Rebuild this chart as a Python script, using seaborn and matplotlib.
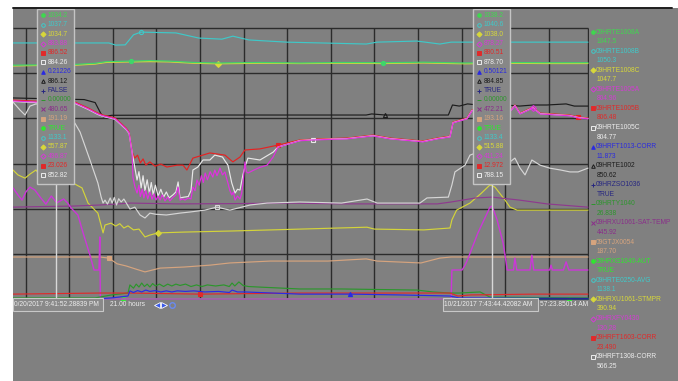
import numpy as np
import pandas as pd
import matplotlib
matplotlib.use('Agg')
import matplotlib.pyplot as plt
import seaborn as sns
from matplotlib.patches import Rectangle

## Trend window: 21.00 hours, time = hours from left edge, value = % of trend span
WIN_H = 21.0

te1008b = [(0, 94.5), (3.5, 94.5), (3.75, 93.7), (4.1, 93.8), (4.4, 97.5), (4.67, 98.5), (5.95, 98.2),
           (6.79, 96.3), (7.63, 95.9), (8.03, 97.0), (8.62, 95.6), (10.0, 94.8), (12.9, 94.1), (13.3, 94.8),
           (14.75, 95.2), (15.59, 94.1), (16.0, 94.8), (21, 94.8)]
te1008a = [(0, 86.3), (1.0, 86.4), (2.3, 86.6), (3.0, 87.0), (3.4, 87.6), (4.3, 87.8), (5.0, 88.0), (5.7, 87.8),
           (6.6, 87.3), (7.5, 87.1), (9.0, 87.3), (10.5, 87.1), (12.0, 87.3), (13.5, 87.2), (15.0, 87.4),
           (16.5, 87.1), (18.0, 87.3), (19.5, 87.2), (21, 87.2)]
te1008c = [(0, 86.0), (1.0, 86.2), (2.3, 86.3), (3.0, 86.7), (3.4, 87.3), (4.3, 87.5), (5.0, 87.6), (5.7, 87.5),
           (6.6, 87.0), (7.5, 86.8), (9.0, 87.0), (10.5, 86.9), (12.0, 87.0), (13.5, 86.9), (15.0, 87.1),
           (16.5, 86.8), (18.0, 87.0), (19.5, 86.9), (21, 86.9)]
te1002 = [(0, 74.2), (2.6, 73.6), (3.0, 72.5), (3.2, 68.6), (3.3, 67.2), (3.6, 67.8), (6.0, 67.9), (10.0, 67.9),
          (12.9, 67.9), (13.1, 68.3), (13.6, 67.9), (15.9, 67.9), (16.05, 71.6), (16.3, 71.2), (16.6, 72.0),
          (17.0, 71.6), (17.5, 72.0), (18.0, 71.6), (18.5, 71.2), (19.0, 71.6), (19.5, 71.6), (20.2, 72.0),
          (20.5, 71.2), (21, 71.2)]
te1005b = [(0, 73.4), (0.84, 73.0), (1.72, 72.7), (2.26, 72.7), (2.74, 70.5), (3.10, 68.6), (3.29, 67.9),
           (3.73, 66.8), (4.13, 63.1), (4.24, 61.6), (4.35, 54.2), (4.45, 52.0), (4.55, 53.1), (4.65, 50.2),
           (4.75, 51.7), (4.85, 49.4), (5.0, 50.6), (5.19, 49.0), (5.4, 49.8), (5.62, 48.7), (6.0, 49.4),
           (6.21, 49.4), (6.35, 47.6), (6.57, 52.0), (7.19, 53.9), (7.74, 53.1), (8.03, 50.6), (8.29, 52.4),
           (8.47, 55.0), (9.02, 55.4), (9.68, 56.8), (10.48, 58.7), (10.96, 59.0), (12.2, 59.4), (13.15, 60.5),
           (13.77, 59.4), (14.97, 58.3), (15.49, 59.4), (15.96, 60.1), (16.07, 65.3), (16.58, 66.8),
           (16.76, 69.7), (17.42, 71.6), (17.97, 67.2), (18.33, 71.6), (18.52, 68.6), (18.99, 70.8),
           (19.25, 68.6), (20.34, 67.9), (20.64, 67.2), (21, 66.8)]
te1005c = [(0, 72.9), (0.84, 72.5), (1.72, 72.2), (2.26, 72.2), (2.74, 70.0), (3.10, 68.1), (3.29, 67.4),
           (3.73, 66.3), (4.13, 62.6), (4.24, 61.1), (4.35, 54.2), (4.53, 43.9), (4.6, 47.0), (4.68, 41.0),
           (4.75, 45.5), (4.82, 40.0), (4.9, 44.0), (4.98, 39.0), (5.05, 43.0), (5.12, 38.5), (5.2, 42.0),
           (5.3, 38.0), (5.4, 40.5), (5.5, 37.6), (5.6, 39.5), (5.7, 37.3), (5.85, 38.5), (5.95, 39.5),
           (6.03, 43.2), (6.1, 37.3), (6.25, 37.6), (6.4, 37.8), (6.5, 40.0), (6.57, 47.6), (6.75, 48.7),
           (6.94, 51.3), (7.19, 51.3), (7.37, 53.1), (7.65, 52.4), (7.74, 51.0), (7.85, 49.4), (7.99, 42.8),
           (8.11, 39.1), (8.2, 40.5), (8.29, 40.2), (8.4, 46.0), (8.47, 48.7), (8.58, 52.0), (9.02, 51.3),
           (9.5, 54.2), (9.68, 56.1), (10.48, 58.5), (10.96, 58.8), (12.2, 59.2), (13.15, 60.3), (13.77, 59.2),
           (14.97, 58.1), (15.49, 59.2), (15.96, 59.9), (16.07, 65.1), (16.58, 66.6), (16.76, 69.5),
           (17.42, 71.4), (17.97, 67.0), (18.33, 71.4), (18.52, 68.4), (18.99, 70.6), (19.25, 68.4),
           (20.34, 67.7), (20.64, 67.0), (21, 66.6)]
te1005a = [(0, 73.1), (0.84, 72.7), (1.72, 72.4), (2.26, 72.4), (2.74, 70.2), (3.10, 68.3), (3.29, 67.6),
           (3.73, 66.5), (4.13, 62.8), (4.24, 61.3), (4.35, 53.9), (4.38, 45.0), (4.45, 41.5), (4.53, 39.1),
           (4.6, 42.0), (4.65, 37.8), (4.72, 40.5), (4.78, 37.3), (4.85, 40.0), (4.92, 36.9), (5.0, 39.5),
           (5.08, 36.8), (5.15, 38.8), (5.22, 36.5), (5.3, 38.0), (5.37, 36.5), (5.45, 38.4), (5.55, 36.2),
           (5.65, 37.6), (5.73, 36.2), (5.85, 37.6), (5.95, 38.4), (6.03, 41.3), (6.1, 36.5), (6.2, 37.0),
           (6.28, 36.5), (6.4, 37.3), (6.5, 36.9), (6.57, 41.3), (6.65, 40.0), (6.72, 43.9), (6.8, 42.0),
           (6.88, 45.5), (6.95, 43.0), (7.02, 46.5), (7.1, 44.0), (7.2, 47.0), (7.3, 45.0), (7.37, 47.6),
           (7.45, 45.5), (7.56, 48.3), (7.65, 45.8), (7.74, 46.9), (7.8, 44.5), (7.85, 42.8), (7.92, 40.0),
           (7.99, 38.4), (8.05, 39.5), (8.11, 36.5), (8.2, 38.0), (8.29, 36.9), (8.35, 39.0), (8.4, 42.8),
           (8.47, 50.6), (8.52, 47.0), (8.58, 46.5), (8.8, 47.6), (9.02, 48.6), (9.28, 49.4), (9.5, 52.4),
           (9.68, 56.1), (10.48, 58.4), (10.96, 58.7), (12.2, 59.1), (13.15, 60.2), (13.77, 59.1),
           (14.97, 58.0), (15.49, 59.1), (15.96, 59.8), (16.07, 65.0), (16.58, 66.5), (16.76, 69.4),
           (17.42, 71.3), (17.97, 66.9), (18.33, 71.3), (18.52, 68.3), (18.99, 70.5), (19.25, 68.3),
           (20.34, 67.6), (20.64, 66.9), (21, 66.5)]
ft1308 = [(0, 72.7), (0.26, 69.7), (0.44, 67.9), (0.62, 71.2), (0.84, 72.0), (1.5, 71.0), (2.0, 67.0),
          (2.26, 64.9), (2.45, 61.6), (2.81, 51.3), (3.10, 42.8), (3.22, 37.6), (3.29, 35.4), (3.36, 36.5),
          (3.45, 35.0), (3.55, 37.3), (3.62, 35.4), (3.7, 37.5), (3.78, 34.7), (3.86, 37.0), (3.95, 35.8),
          (4.05, 36.9), (4.27, 33.2), (4.45, 33.9), (4.64, 31.0), (4.82, 29.9), (5.0, 31.7), (5.2, 31.3),
          (5.6, 31.0), (6.1, 31.7), (6.46, 32.1), (7.0, 32.8), (7.45, 33.9), (7.92, 32.8), (8.66, 34.7),
          (9.28, 35.4), (10.48, 35.8), (12.0, 35.4), (12.93, 36.9), (13.3, 35.4), (14.86, 35.4),
          (15.12, 37.3), (15.9, 37.6), (16.03, 42.1), (16.14, 46.9), (16.51, 49.4), (16.69, 53.1),
          (17.2, 55.0), (17.97, 50.2), (18.15, 50.6), (18.33, 52.0), (18.52, 48.3), (18.7, 45.8),
          (18.95, 51.3), (19.25, 49.4), (19.6, 48.3), (20.0, 47.6), (20.34, 46.9), (20.64, 46.9), (21, 48.3)]
xu1061_sat = [(0, 33.9), (1.0, 34.1), (2.2, 34.3), (3.2, 34.7), (4.3, 35.4), (6.0, 35.1), (8.0, 35.2),
              (10.0, 35.4), (12.0, 35.1), (14.0, 35.1), (15.5, 35.1), (16.0, 35.8), (16.9, 37.3), (17.5, 37.6),
              (18.5, 36.5), (19.5, 35.1), (20.5, 34.3), (21, 33.9)]
xu1061_stmpr = [(0, 47.6), (0.18, 45.8), (0.44, 44.6), (0.62, 46.1), (0.84, 47.6), (1.1, 44.0), (1.5, 43.0),
                (1.9, 43.8), (2.19, 42.8), (2.52, 41.0), (2.74, 35.4), (3.10, 31.7), (3.29, 24.4), (3.36, 27.3),
                (3.58, 28.0), (3.75, 26.9), (3.9, 27.8), (4.05, 26.2), (4.2, 27.0), (4.4, 25.5), (4.6, 25.8),
                (4.82, 22.9), (5.0, 23.6), (5.3, 24.4), (6.25, 24.7), (8.0, 25.1), (10.5, 25.8), (12.93, 26.5),
                (13.2, 25.8), (15.0, 25.5), (15.96, 26.2), (16.03, 29.2), (16.2, 32.8), (16.69, 35.4),
                (17.1, 39.0), (17.42, 42.1), (17.6, 41.3), (17.97, 36.5), (18.15, 33.9), (18.41, 32.8),
                (21, 32.8)]
gtjx0054 = [(0, 15.5), (3.18, 15.5), (3.5, 15.1), (3.8, 13.0), (4.13, 12.2), (4.5, 11.0), (4.82, 10.0),
            (5.37, 11.4), (6.25, 11.8), (7.2, 12.5), (7.92, 13.3), (9.4, 14.0), (11.5, 14.0), (12.9, 14.8),
            (13.3, 14.0), (14.9, 13.3), (15.59, 15.1), (16.0, 15.5), (21, 15.5)]
xfy0430 = [(0, 41.0), (0.18, 38.4), (0.33, 36.5), (0.47, 39.5), (0.62, 41.3), (0.8, 40.2), (1.0, 37.5),
           (1.2, 35.0), (1.4, 38.0), (1.6, 35.5), (1.85, 36.9), (2.0, 35.4), (2.12, 33.6), (2.37, 31.0),
           (2.56, 24.4), (2.81, 16.2), (2.96, 10.7), (3.14, 10.7), (3.17, 22.9), (3.19, 0.0), (16.0, 0.0),
           (16.03, 10.7), (16.4, 10.7), (16.51, 12.5), (16.6, 14.5), (16.98, 24.4), (17.42, 33.9),
           (17.5, 34.3), (17.68, 29.2), (17.9, 20.7), (17.97, 16.2), (18.05, 10.7), (18.28, 10.7),
           (18.33, 15.1), (18.4, 10.7), (18.88, 10.7), (18.95, 16.2), (19.02, 10.7), (19.6, 10.7),
           (19.65, 12.5), (19.7, 10.7), (20.1, 10.7), (20.2, 13.7), (20.3, 10.7), (21, 10.7)]
ty1040 = [(0, 0.4), (3.0, 0.4), (3.6, 1.5), (4.2, 2.2), (4.27, 5.2), (4.4, 4.0), (4.5, 5.5), (4.6, 4.4),
          (4.7, 5.9), (4.8, 4.6), (4.9, 5.5), (5.0, 4.4), (5.1, 5.7), (5.2, 4.8), (5.35, 5.5), (5.5, 4.6),
          (5.65, 5.5), (5.8, 4.8), (5.95, 5.5), (6.1, 5.0), (6.3, 5.5), (6.5, 4.6), (6.7, 5.2), (6.9, 4.6),
          (7.1, 5.2), (7.4, 4.8), (7.7, 5.2), (7.9, 4.6), (8.0, 5.9), (8.1, 4.8), (8.25, 6.3), (8.4, 5.0),
          (8.6, 4.6), (9.0, 4.4), (10.48, 3.7), (12.0, 3.7), (14.75, 3.3), (15.34, 2.6), (15.96, 2.2),
          (16.3, 2.2), (17.06, 2.6), (17.42, 0.7), (21, 0.4)]
ft1013 = [(0, 0.0), (3.0, 0.0), (3.6, 0.4), (4.2, 1.1), (4.27, 3.0), (4.4, 2.4), (4.55, 3.1), (4.7, 2.6),
          (4.85, 3.3), (5.0, 2.8), (5.2, 3.1), (5.4, 2.6), (5.6, 3.0), (5.8, 2.6), (6.0, 3.0), (6.3, 2.8),
          (6.6, 3.0), (7.0, 2.6), (7.5, 2.8), (7.9, 2.4), (8.0, 3.3), (8.2, 2.6), (8.47, 2.6), (10.48, 1.8),
          (12.31, 1.8), (14.13, 1.5), (15.96, 1.1), (16.3, 0.4), (21, 0.2)]
ft1603 = [(0, 1.8), (3.18, 2.2), (4.2, 2.2), (6.83, 1.8), (10.48, 2.2), (15.96, 2.2), (16.25, 1.1),
          (16.7, 1.5), (19.0, 1.8), (21, 1.8)]
xs1040_aut = [(0, 0.0), (4.0, 0.0), (20.3, 0.0), (21, 0.0)]
zso1036 = [(16.3, 0.0, 1), (17.4, 0.0, 1), (18.1, 0.0, 2), (21, 0.0, 2)]

## Tags, current values and the two cursor readouts
tags = ['09HRTE1008A', '09HRTE1008B', '09HRTE1008C', '09HRTE1005A', '09HRTE1005B', '09HRTE1005C',
        '09HRFT1013-CORR', '09HRTE1002', '09HRZSO1036', '09HRTY1040', '09HRXU1061-SAT-TEMP', '09GTJX0054',
        '09HRXS1040-AUT', '09HRTE0250-AVG', '09HRXU1061-STMPR', '09HRXFY0430', '09HRFT1603-CORR',
        '09HRFT1308-CORR']
tag_now = ['1047.5', '1050.3', '1047.7', '804.96', '806.48', '804.77', '11.873', '850.62', 'TRUE', '26.838',
           '445.92', '187.70', 'TRUE', '1138.1', '390.94', '130.28', '23.490', '566.25']
cursor_h = [1.57, 17.49]
cursor_vals = [
    ['1034.2', '1037.7', '1034.7', '883.88', '886.52', '884.26', '0.21226', '886.12', 'FALSE', '0.00000',
     '480.65', '191.19', 'TRUE', '1133.1', '557.87', '496.87', '23.026', '852.82'],
    ['1038.2', '1040.6', '1038.0', '878.27', '880.51', '878.70', '0.50121', '884.85', 'TRUE', '0.00000',
     '472.21', '193.16', 'TRUE', '1133.4', '515.88', '411.24', '12.972', '788.15'],
]
cursor_labels = ['0/20/2017 9:41:52.28839 PM', '10/21/2017 7:43:44.42082 AM']
end_label = '57:23.85014 AM'
span_label = '21.00 hours'

tag_colors = ['#3fd84f', '#3fcaca', '#d8d83a', '#d43cd4', '#e02a2a', '#ececec', '#2a2ae0', '#1c1c1c',
              '#262680', '#2c962c', '#8a2e8a', '#d6a47e', '#2ee82e', '#3fcaca', '#d8d83a', '#d43cd4',
              '#e02a2a', '#ececec']
tag_markers = [('o', True), ('o', False), ('D', True), ('D', False), ('s', True), ('s', False), ('^', True),
               ('^', False), ('+', True), ('_', True), ('x', True), ('s', True), ('o', True), ('o', False),
               ('D', True), ('D', False), ('s', True), ('s', False)]

BG = '#808080'
GRID = '#2b2b2b'
W, H = 678, 381
FS = 4.8

sns.set_theme(style='dark', rc={'axes.facecolor': BG, 'figure.facecolor': BG})
plt.rcParams['font.family'] = ['Liberation Sans', 'DejaVu Sans']

fig = plt.figure(figsize=(W / 100, H / 100), dpi=100)
ax = fig.add_axes([13 / W, 1 - 300 / H, 576 / W, 292 / H])
ax.set_xlim(0, WIN_H * 576 / 575)
ax.set_ylim(-0.37, 107.4)

# grid: 12 minor steps across, 6 bands from 0 to 100 %
grid_v = 0.46 + 1.5924 * np.arange(13)
ax.vlines(list(grid_v) + [WIN_H], 0, 100, color=GRID, lw=1.0, zorder=1)
ax.hlines(np.linspace(0, 100, 7), 0, WIN_H, color=GRID, lw=1.0, zorder=1)


def trace(pairs, color, z=3, lw=0.85, mark_h=None, mk='o', filled=True, units=False):
    cols = ['h', 'v', 'seg'] if units else ['h', 'v']
    df = pd.DataFrame(pairs, columns=cols)
    sns.lineplot(data=df, x='h', y='v', ax=ax, color=color, lw=lw, estimator=None, sort=False,
                 units='seg' if units else None, legend=False, zorder=z)
    if mark_h:
        idx = [df['h'].sub(t).abs().idxmin() for t in mark_h]
        ax.plot(df['h'].iloc[idx], df['v'].iloc[idx], ls='none', marker=mk, ms=3,
                mfc=color if filled else 'none', mec=color, mew=0.8, zorder=z)


trace(xs1040_aut, '#33ee33', z=2, lw=1.2, mark_h=[4.0, 20.3])
trace(te1008b, '#3fc8c8', mark_h=[4.67], filled=False)
trace(te1008c, '#d8d83a', mark_h=[7.5], mk='D')
trace(te1008a, '#3ed66a', mark_h=[4.3, 13.5])
trace(te1002, '#1c1c1c', mark_h=[13.6], mk='^', filled=False)
trace(gtjx0054, '#d6a47e', mark_h=[3.5], mk='s')
trace(xu1061_stmpr, '#d4d43a', mark_h=[5.3], mk='D')
trace(xu1061_sat, '#8e3a8e')
trace(ft1308, '#d6d6d6', mark_h=[7.45], mk='s', filled=False)
trace(te1005b, '#e62222', mark_h=[9.68, 20.64], mk='s')
trace(te1005c, '#e8e8e8', mark_h=[10.96], mk='s', filled=False)
trace(te1005a, '#e030e0', mark_h=[18.99], mk='D', filled=False)
trace(xfy0430, '#cc36d8', lw=1.0)
trace(ty1040, '#2c962c')
trace(ft1603, '#e02a2a', mark_h=[6.83], mk='s')
trace(ft1013, '#2a2ae6', mark_h=[12.31], mk='^')
trace(zso1036, '#262680', lw=1.2, units=True)

ax.vlines(cursor_h, -0.4, 43, color='#d8d8d8', lw=1.0, zorder=6)
ax.set_xlabel('')
ax.set_ylabel('')
ax.set_xticks([])
ax.set_yticks([])
for s in ax.spines.values():
    s.set_visible(False)

# overlay in pixel units for the readouts, tag panel and time labels
ov = fig.add_axes([0, 0, 1, 1], zorder=10)
ov.set_xlim(0, W)
ov.set_ylim(H, 0)
ov.axis('off')
ov.add_patch(Rectangle((0, 0), 12.5, H, fc='white', ec='none'))
ov.add_patch(Rectangle((0, 0), W, 7.5, fc='white', ec='none'))
ov.plot([12.5, 672], [8, 8], color='#1e1e1e', lw=1.4)


def mark(x, y, i, ms=2.6):
    mk, filled = tag_markers[i]
    col = tag_colors[i]
    ov.plot(x, y, marker=mk, ms=ms, mfc=col if filled else 'none', mec=col, mew=0.7)


for h, vals in zip(cursor_h, cursor_vals):
    left = 13 + h / WIN_H * 575 - 18.5
    ov.add_patch(Rectangle((left, 9), 37, 175, fc='#878787', ec='#c4c4c4', lw=1.0))
    for i, val in enumerate(vals):
        y = 15.3 + 9.4 * i
        mark(left + 6, y, i)
        ov.text(left + 10.5, y, val, color=tag_colors[i], fontsize=FS, va='center', ha='left')

for i, (tag, now) in enumerate(zip(tags, tag_now)):
    y = 32 + 19.1 * i
    mark(592.5, y, i)
    ov.text(595.5, y, tag, color=tag_colors[i], fontsize=FS, va='center', ha='left')
    ov.text(596.5, y + 9.55, now, color=tag_colors[i], fontsize=FS, va='center', ha='left')

# time labels under the trend
ov.add_patch(Rectangle((13, 298), 90, 13, fc='#898989', ec='#c8c8c8', lw=0.8))
ov.text(14, 304.5, cursor_labels[0], color='#ececec', fontsize=FS, va='center', ha='left')
ov.text(110, 304.5, span_label, color='#ececec', fontsize=FS, va='center', ha='left')
ov.plot(157, 304.5, marker='<', ms=4, mfc='#3a5ae8', mec='white', mew=0.6)
ov.plot(163.5, 304.5, marker='>', ms=4, mfc='#3a5ae8', mec='white', mew=0.6)
ov.plot(172, 304.5, marker='o', ms=4, mfc='none', mec='#6a8af0', mew=1.0)
ov.add_patch(Rectangle((443, 298), 95, 13, fc='#898989', ec='#c8c8c8', lw=0.8))
ov.text(444.5, 304.5, cursor_labels[1], color='#ececec', fontsize=FS, va='center', ha='left')
ov.text(539.5, 304.5, end_label, color='#ececec', fontsize=FS, va='center', ha='left')

fig.savefig('out.png', dpi=100, facecolor=BG)
